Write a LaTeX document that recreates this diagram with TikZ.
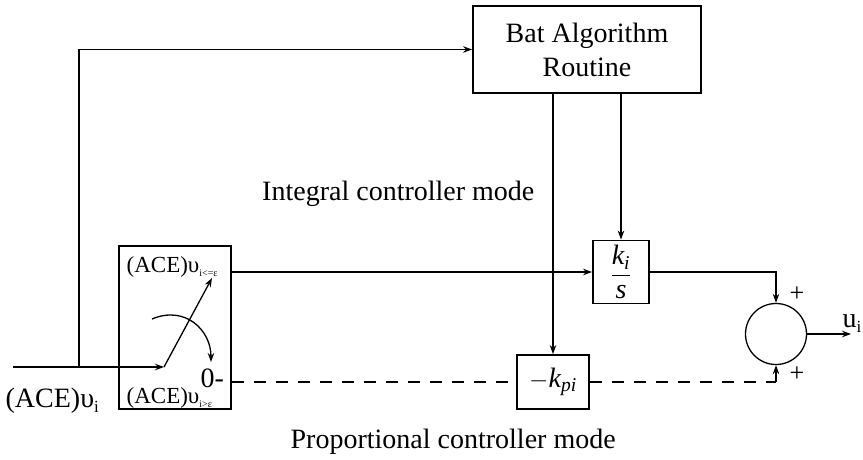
\documentclass[tikz,border=0pt]{standalone}
\usepackage{amsmath}
\usepackage{fontspec}
\setmainfont{Liberation Serif}
\usetikzlibrary{arrows.meta}

\begin{document}
\begin{tikzpicture}[x=1pt, y=-1pt, >={Stealth[length=9pt,width=6.5pt]}, line width=1.3pt,
  blk/.style={draw, line width=1.8pt, inner sep=0pt},
  big/.style={font=\fontsize{28}{34}\selectfont},
  sml/.style={font=\fontsize{23}{27}\selectfont, inner sep=0pt, anchor=base west},
  dsh/.style={line width=2.4pt, dash pattern=on 12pt off 10pt}]
\useasboundingbox (0,0) rectangle (863,459);
\node[blk, big, minimum width=228pt, minimum height=87pt, align=center] (bat) at (587,49.5) {Bat Algorithm\\Routine};
\node[blk, big, minimum width=56pt, minimum height=63pt] (ki) at (621,272) {$\dfrac{\text{\itshape k}_{\text{\itshape i}}}{\text{\itshape s}}$};
\node[blk, big, minimum width=72pt, minimum height=54pt] (kp) at (553,382) {$-\text{\itshape k}_{\text{\itshape pi}}$};
\node[draw, circle, minimum size=61pt, inner sep=0pt] (sum) at (776,334) {};
\node[blk, minimum width=112pt, minimum height=163pt] (sw) at (175,327.5) {};
\coordinate (in) at (13,367);
\coordinate (tap) at (79,367);
\coordinate (piv) at (164,367);
\coordinate (swup) at (212,278);
\coordinate (rot) at (152,319);
\coordinate (zero) at (211,362);
\coordinate (out) at (851,334);
\coordinate (cor) at (sum.south |- kp.east);
\draw[->] (in) -- (piv);
\draw[->] (tap) |- (bat.west);
\draw[->] (piv) -- (swup);
\draw[->] (rot) .. controls (185,305) and (211,330) .. (zero);
\draw[->] (sw.east |- ki.west) -- (ki.west);
\draw[->] (ki.east) -| (sum.north);
\draw[->] (sum.east) -- (out);
\draw[->] (bat.south -| kp.north) -- (kp.north);
\draw[->] (bat.south -| ki.north) -- (ki.north);
\draw[dsh] (sw.east |- kp.west) -- (kp.west);
\draw[dsh] (kp.east) -- (cor);
\draw[->, line width=2pt] (cor) -- (sum.south);
\node[sml] (lup) at (126,272) {(ACE)υ\raisebox{-4pt}{\fontsize{10}{10}\selectfont i<=ε}};
\node[sml] (ldn) at (126,403) {(ACE)υ\raisebox{-4pt}{\fontsize{10}{10}\selectfont i>ε}};
\node[big, anchor=base west, inner sep=0pt] (zl) at (200,387) {0-};
\node[big, anchor=base west, inner sep=0pt] (ace) at (5,407) {(ACE)υ\raisebox{-5pt}{\fontsize{17}{17}\selectfont i}};
\node[big, anchor=base west, inner sep=0pt] (ui) at (842,327) {u\raisebox{-5pt}{\fontsize{17}{17}\selectfont i}};
\node[font=\fontsize{26}{26}\selectfont, inner sep=0pt] (p1) at (797,294) {+};
\node[font=\fontsize{26}{26}\selectfont, inner sep=0pt] (p2) at (797,374) {+};
\node[big, anchor=base east, inner sep=0pt] (intm) at (535,200) {Integral controller mode};
\node[big, anchor=base west, inner sep=0pt] (propm) at (290,448) {Proportional controller mode};
\end{tikzpicture}
\end{document}
